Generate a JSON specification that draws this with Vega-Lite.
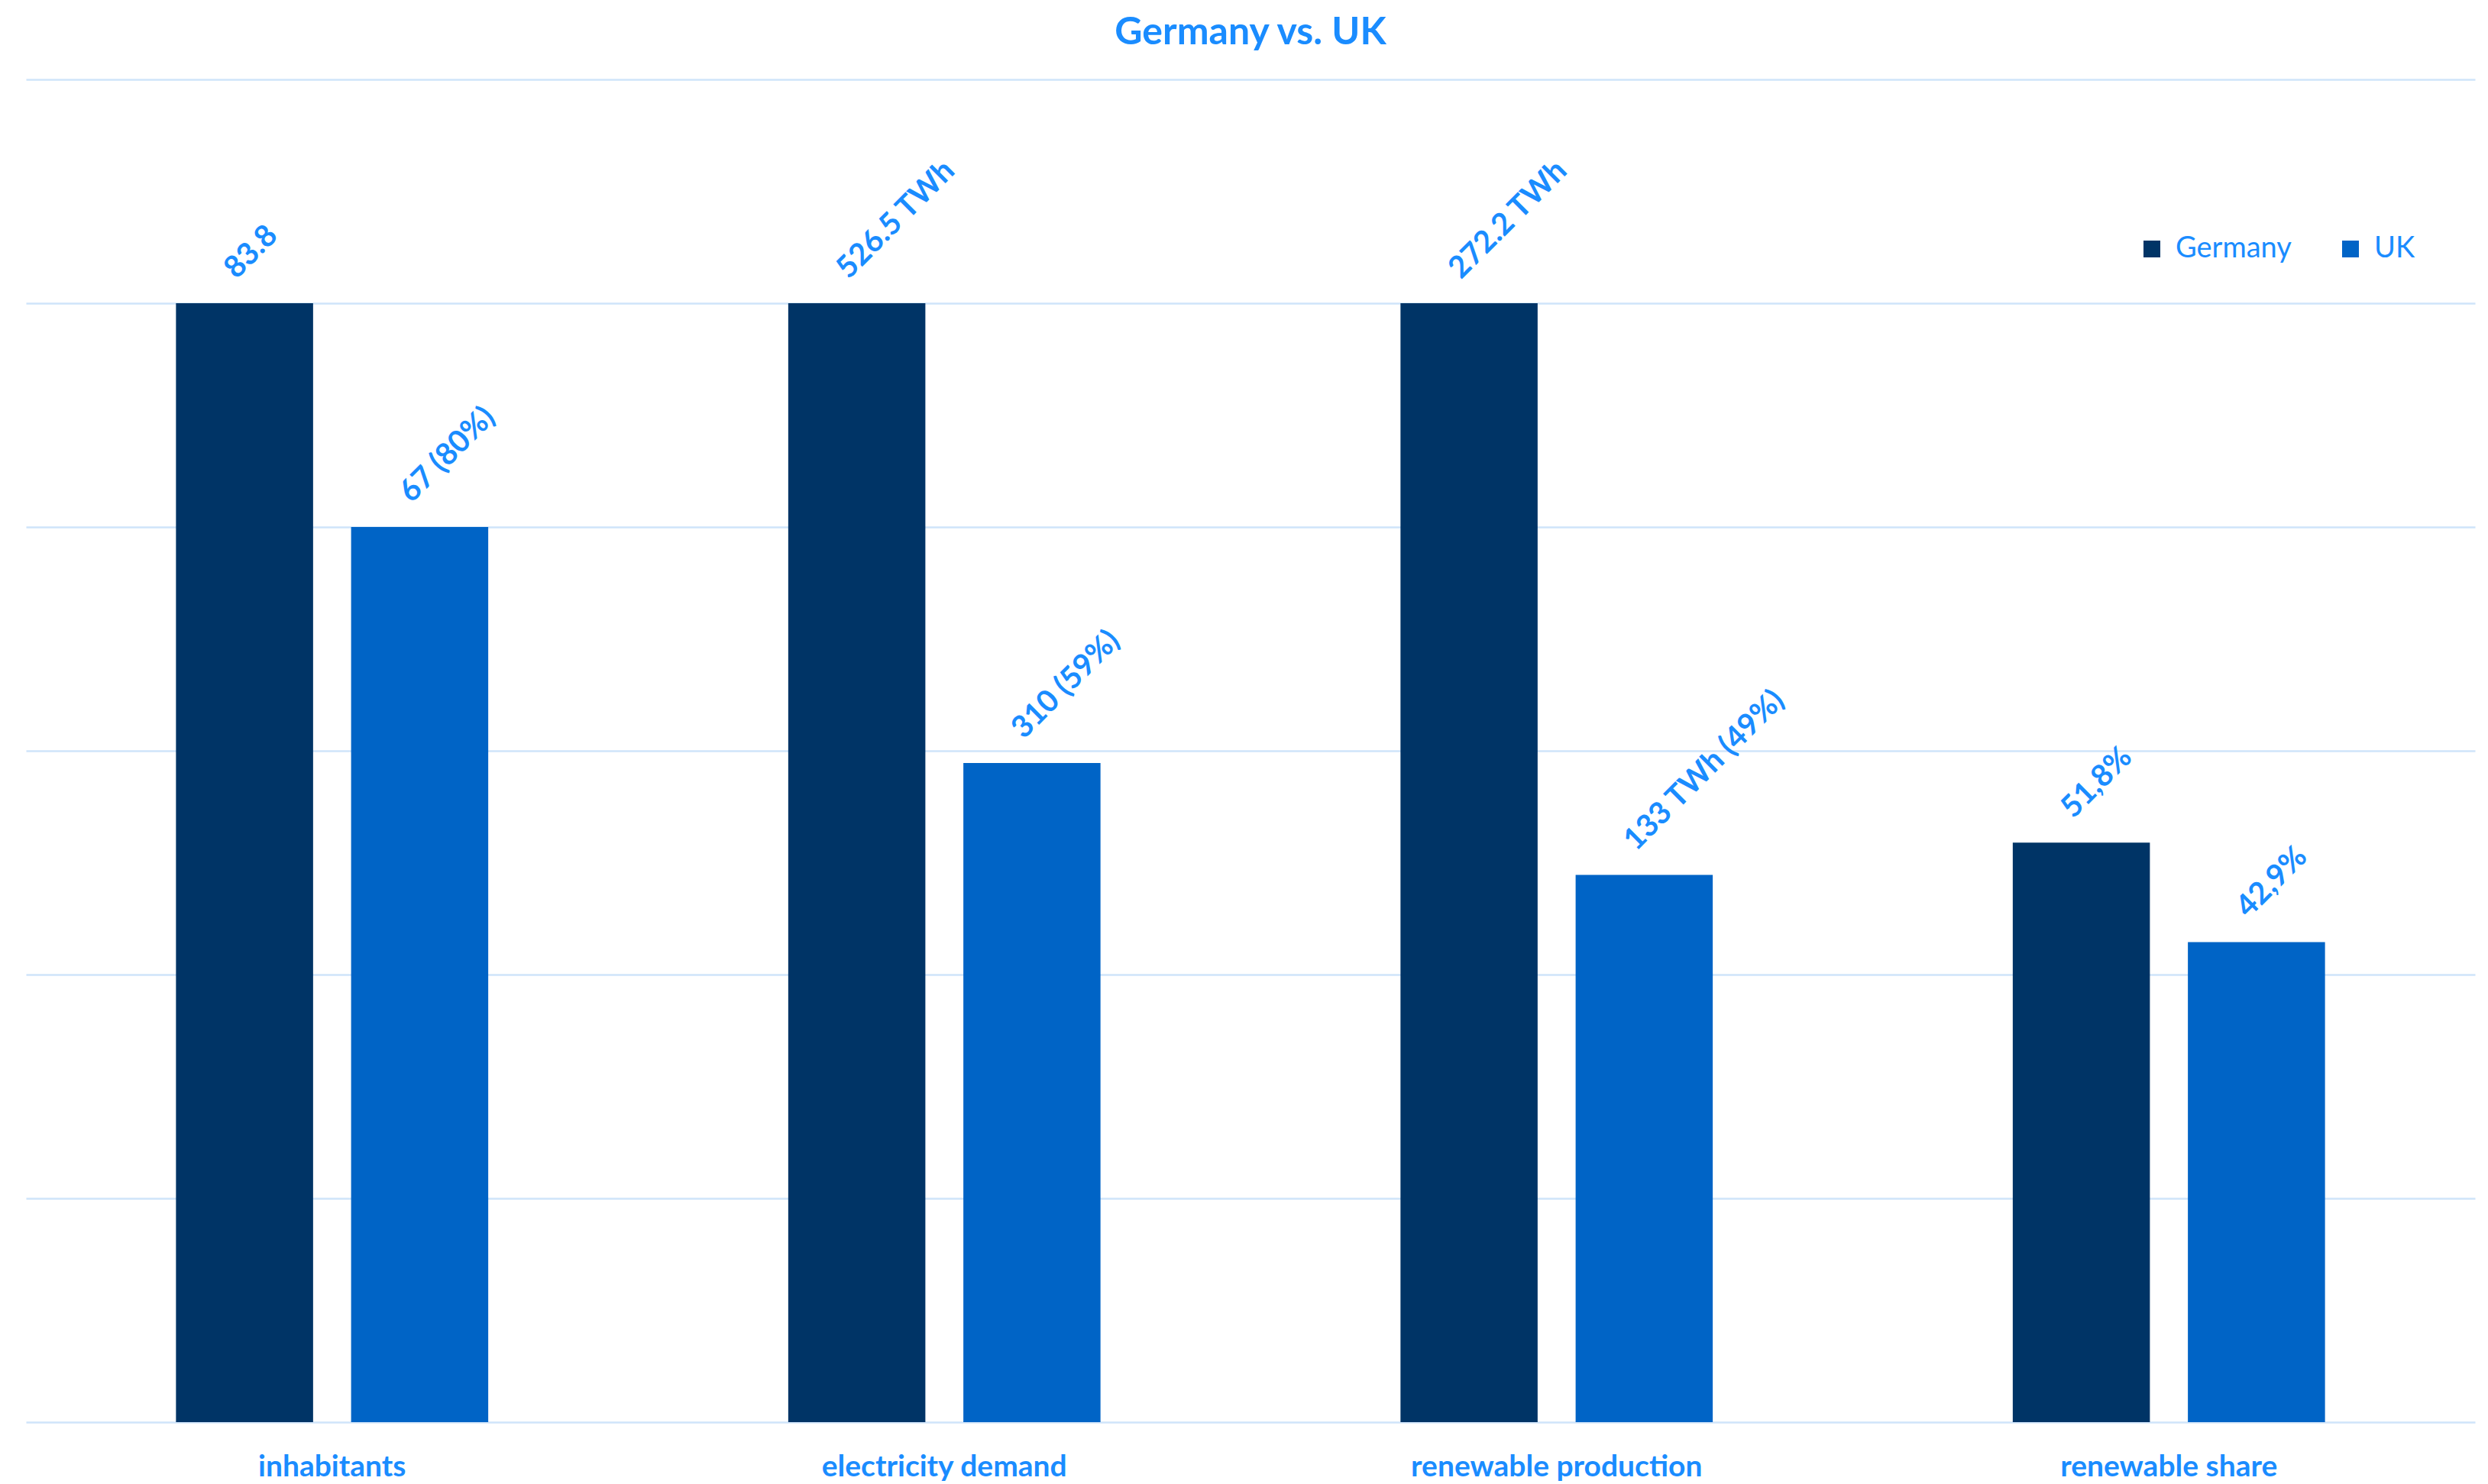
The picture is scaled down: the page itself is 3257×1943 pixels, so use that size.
{
  "$schema": "https://vega.github.io/schema/vega-lite/v6.json",
  "width": 3206,
  "height": 1758,
  "autosize": {"type": "none"},
  "padding": {"left": 34, "top": 104, "right": 17, "bottom": 81},
  "background": "#ffffff",
  "title": {
    "text": "Germany vs. UK",
    "anchor": "middle",
    "font": "Lato",
    "fontSize": 50,
    "fontWeight": "bold",
    "color": "#1a8cff",
    "offset": 36
  },
  "data": {
    "values": [
      {"category": "inhabitants", "country": "Germany", "value": 100, "label": "83.8"},
      {"category": "inhabitants", "country": "UK", "value": 80, "label": "67 (80%)"},
      {"category": "electricity demand", "country": "Germany", "value": 100, "label": "526.5 TWh"},
      {"category": "electricity demand", "country": "UK", "value": 58.9, "label": "310 (59%)"},
      {"category": "renewable production", "country": "Germany", "value": 100, "label": "272.2 TWh"},
      {"category": "renewable production", "country": "UK", "value": 48.9, "label": "133 TWh (49%)"},
      {"category": "renewable share", "country": "Germany", "value": 51.8, "label": "51,8%"},
      {"category": "renewable share", "country": "UK", "value": 42.9, "label": "42,9%"}
    ]
  },
  "encoding": {
    "x": {
      "field": "category",
      "type": "nominal",
      "sort": ["inhabitants", "electricity demand", "renewable production", "renewable share"],
      "scale": {"paddingInner": 0.49, "paddingOuter": 0.245},
      "axis": {
        "title": null,
        "labelAngle": 0,
        "labelFont": "Lato",
        "labelFontSize": 39,
        "labelFontWeight": "bold",
        "labelColor": "#1a8cff",
        "labelBaseline": "top",
        "labelPadding": 39,
        "labelLimit": 0,
        "ticks": false,
        "domain": false,
        "grid": false
      }
    },
    "xOffset": {
      "field": "country",
      "type": "nominal",
      "sort": ["Germany", "UK"],
      "scale": {"paddingInner": 0.217, "paddingOuter": 0}
    },
    "y": {
      "field": "value",
      "type": "quantitative",
      "scale": {"domain": [0, 120], "nice": false},
      "axis": {
        "title": null,
        "labels": false,
        "ticks": false,
        "domain": false,
        "values": [0, 20, 40, 60, 80, 100, 120],
        "grid": true,
        "gridColor": "#cfe4fa",
        "gridWidth": 2.5
      }
    }
  },
  "layer": [
    {
      "mark": {"type": "bar"},
      "encoding": {
        "color": {
          "field": "country",
          "type": "nominal",
          "sort": ["Germany", "UK"],
          "scale": {"domain": ["Germany", "UK"], "range": ["#003466", "#0064c6"]},
          "legend": {
            "title": null,
            "orient": "none",
            "direction": "horizontal",
            "legendX": 2764,
            "legendY": 203,
            "padding": 0,
            "symbolType": "square",
            "symbolSize": 484,
            "symbolStrokeWidth": 0,
            "symbolOpacity": 1,
            "labelFont": "Lato",
            "labelFontSize": 38,
            "labelColor": "#1a8cff",
            "labelOffset": 12,
            "columnPadding": 58
          }
        }
      }
    },
    {
      "mark": {
        "type": "text",
        "angle": -45,
        "align": "left",
        "baseline": "alphabetic",
        "dx": 14,
        "dy": -29,
        "font": "Lato",
        "fontSize": 40,
        "fontWeight": "bold",
        "color": "#1a8cff"
      },
      "encoding": {
        "text": {"field": "label", "type": "nominal"}
      }
    }
  ],
  "config": {
    "view": {"stroke": null}
  }
}
